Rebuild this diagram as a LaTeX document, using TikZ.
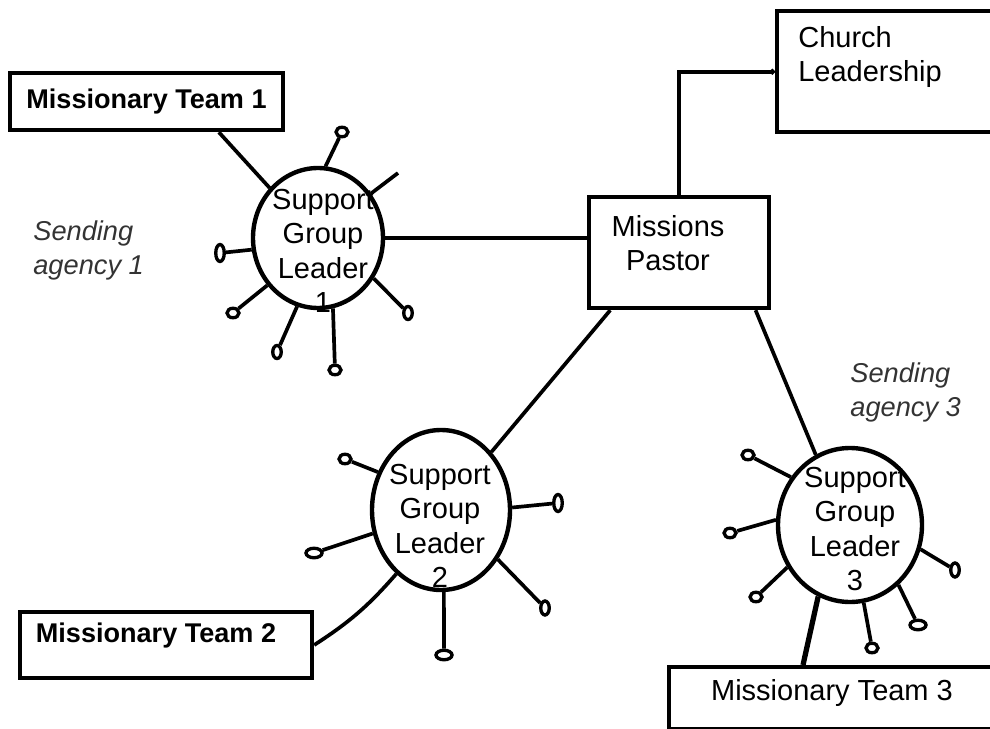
\documentclass[tikz,border=0pt]{standalone}
\usepackage{fontspec}
\setmainfont{Liberation Sans}
\usetikzlibrary{shapes.geometric,calc,arrows.meta}

\def \boxWidth {2.5pt}
\def \spokeWidth {2.1pt}

\tikzset{
  tbox/.style={draw, line width=\boxWidth, rectangle, inner sep=0pt},
  leader/.style={draw, line width=\boxWidth, ellipse, inner sep=0pt},
  labeltext/.style={inner sep=0pt, align=center, font=\fontsize{16.5}{19.5}\selectfont},
  teamtext/.style={inner sep=0pt, font=\bfseries\fontsize{15.4}{18}\selectfont},
  agency/.style={inner sep=0pt, align=left, text=black!80, font=\itshape\fontsize{15.5}{19.3}\selectfont},
  spoke/.style={line width=\spokeWidth},
  pod/.style={draw, ellipse, line width=1.9pt, inner sep=0pt, minimum width=0.24cm, minimum height=0.19cm},
  podtall/.style={pod, minimum width=0.17cm, minimum height=0.34cm},
  podwide/.style={pod, minimum width=0.32cm, minimum height=0.19cm}
}

\begin{document}
\begin{tikzpicture}
  \useasboundingbox (0,0) rectangle (19.8,-14.58);

  % boxes
  \node[tbox, minimum width=5.46cm, minimum height=1.14cm, teamtext] (mt1) at (2.93,-2.03) {Missionary Team 1};
  \node[tbox, minimum width=3.6cm, minimum height=2.22cm] (pastor) at (13.58,-5.05) {};
  \node[labeltext] (pastortext) at (13.36,-4.86) {Missions\\Pastor};
  \node[tbox, anchor=north west, minimum width=5cm, minimum height=2.42cm] (church) at (15.5,-0.18) {};
  \node[labeltext, align=left, anchor=north west] (churchtext) at (15.96,-0.52) {Church\\Leadership};
  \node[tbox, minimum width=5.84cm, minimum height=1.32cm] (mt2) at (3.32,-12.9) {};
  \node[teamtext] (mt2text) at (3.12,-12.7) {Missionary Team 2};
  \node[tbox, anchor=north west, minimum width=7cm, minimum height=1.24cm] (mt3) at (13.34,-13.3) {};
  \node[labeltext] (mt3text) at (16.64,-13.86) {Missionary Team 3};

  % support group leaders
  \node[leader, minimum width=2.6cm, minimum height=2.8cm] (sg1) at (6.36,-4.76) {};
  \node[labeltext] (sg1text) at (6.46,-5.02) {Support\\Group\\Leader\\1};
  \node[leader, minimum width=2.76cm, minimum height=3.2cm] (sg2) at (8.82,-10.2) {};
  \node[labeltext] (sg2text) at (8.8,-10.52) {Support\\Group\\Leader\\2};
  \node[leader, minimum width=2.88cm, minimum height=3.08cm] (sg3) at (17.0,-10.5) {};
  \node[labeltext] (sg3text) at (17.1,-10.58) {Support\\Group\\Leader\\3};

  \node[agency, anchor=west] (agency1) at (0.66,-5.0) {Sending\\agency 1};
  \node[agency, anchor=west] (agency3) at (17.0,-7.84) {Sending\\agency 3};

  % main links
  \draw[spoke] (sg1.east) -- (sg1.east -| pastor.west);
  \draw[spoke] (pastor.220) -- (sg2.49);
  \draw[spoke] (pastor.-37) -- (sg3.116);
  \draw[spoke, -{Circle[length=3pt]}] (pastor.north) |- (church.west);
  \draw[spoke] (mt1.-23) -- (sg1.134);
  \draw[spoke] (sg2.235) to[bend left=8] (mt2.east);
  \draw[line width=3pt] (sg3.246) -- ($(mt3.north west)+(2.72,0)$);

  % members round leader 1
  \node[pod] (p11) at (6.84,-2.64) {};
  \coordinate (p12) at (7.96,-3.46);
  \node[podtall] (p13) at (4.4,-5.06) {};
  \node[pod] (p14) at (4.66,-6.26) {};
  \node[podtall, minimum height=0.26cm] (p15) at (5.54,-7.04) {};
  \node[pod] (p16) at (6.7,-7.4) {};
  \node[podtall, minimum height=0.26cm] (p17) at (8.16,-6.26) {};
  \draw[spoke] (sg1.84) -- (p11);
  \draw[spoke] (sg1.40) -- (p12);
  \draw[spoke] (sg1.190) -- (p13);
  \draw[spoke] (sg1.223) -- (p14);
  \draw[spoke] (sg1.253) -- (p15);
  \draw[spoke] (sg1.282) -- (p16);
  \draw[spoke] (sg1.324) -- (p17);

  % members round leader 2
  \node[pod] (p21) at (6.9,-9.18) {};
  \node[podwide] (p22) at (6.28,-11.06) {};
  \node[podtall] (p23) at (11.16,-10.06) {};
  \node[podtall, minimum height=0.28cm] (p24) at (10.9,-12.16) {};
  \node[podwide] (p25) at (8.88,-13.1) {};
  \draw[spoke] (sg2.149) -- (p21);
  \draw[spoke] (sg2.199) -- (p22);
  \draw[spoke] (sg2.2) -- (p23);
  \draw[spoke] (sg2.319) -- (p24);
  \draw[spoke] (sg2.272) -- (p25);

  % members round leader 3
  \node[pod] (p31) at (14.96,-9.1) {};
  \node[pod] (p32) at (14.6,-10.66) {};
  \node[pod] (p33) at (15.12,-11.94) {};
  \node[pod] (p34) at (17.44,-12.96) {};
  \node[podwide] (p35) at (18.36,-12.5) {};
  \node[podtall, minimum height=0.28cm] (p36) at (19.1,-11.4) {};
  \draw[spoke] (sg3.141) -- (p31);
  \draw[spoke] (sg3.176) -- (p32);
  \draw[spoke] (sg3.214) -- (p33);
  \draw[spoke] (sg3.280) -- (p34);
  \draw[spoke] (sg3.309) -- (p35);
  \draw[spoke] (sg3.341) -- (p36);
\end{tikzpicture}
\end{document}
